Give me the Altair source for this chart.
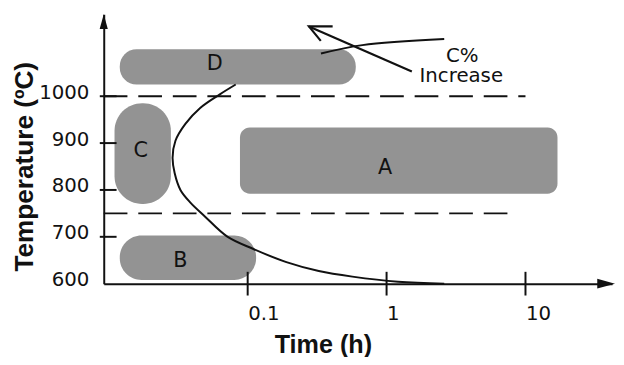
import altair as alt
import pandas as pd

FONT = "DejaVu Sans, Liberation Sans, Arial, sans-serif"
TFONT = "Liberation Sans, Arial, Helvetica, sans-serif"

# ---- axes -------------------------------------------------------------
X_MIN, X_MAX = 0.0092, 42
Y_MIN, Y_MAX = 600, 1175
x_ticks = [0.1, 1, 10]
y_ticks = [600, 700, 800, 900, 1000]
y_inner_ticks = [700, 800, 900, 1000]

# ---- hatched regions (time span in h, temperature span in degC) -------
region_names = ["A", "B", "C", "D"]
region_t0 = [0.088, 0.012, 0.011, 0.012]
region_t1 = [17.0, 0.115, 0.028, 0.60]
region_T0 = [792, 608, 770, 1025]
region_T1 = [933, 703, 985, 1100]
label_t = [0.976, 0.0328, 0.017, 0.058]
label_T = [846, 648, 884, 1069]

# ---- C-curve ----------------------------------------------------------
curve_t = [0.082, 0.063, 0.0455, 0.0356, 0.0302, 0.0288, 0.0298, 0.0328,
           0.0387, 0.0494, 0.0709, 0.110, 0.190, 0.325, 0.567, 1.21, 2.6]
curve_T = [1025, 1004, 975, 941, 905, 869, 836, 800,
           773, 743, 701, 674, 646, 627, 615, 604, 600]

# ---- shifted curve (higher C%) ---------------------------------------
shift_t = [0.337, 0.67, 2.6]
shift_T = [1091, 1109, 1122]

# ---- arrow -----------------------------------------------------------
arrow_shaft_t = [1.52, 0.276]
arrow_shaft_T = [1053, 1149]
arrow_head_t = [0.409, 0.276, 0.336]
arrow_head_T = [1149, 1149, 1118]

# ---- dashed temperature limits --------------------------------------
dash_T = [1000, 750]
dash_t_end = [10, 8.4]

# ---- annotation text --------------------------------------------------
note_text = ["C%", "Increase"]
note_t = [3.5, 3.45]
note_T = [1086, 1042]

xs = alt.Scale(type="log", domain=[X_MIN, X_MAX], nice=False)
ys = alt.Scale(domain=[Y_MIN, Y_MAX], nice=False, zero=False)

x_axis = alt.Axis(values=x_ticks, format="~g", title="Time (h)", grid=False,
                  domain=True, domainColor="#111", domainWidth=2,
                  ticks=False, tickSize=0, labelPadding=20, labelAlign="left",
                  labelFontSize=20, labelFont=FONT, labelColor="#111",
                  titleFont=TFONT, titleFontSize=25.5, titleFontWeight="bold",
                  titleColor="#111", titleX=222, titleY=70, titleBaseline="alphabetic")
y_axis = alt.Axis(values=y_ticks, format="d", title="Temperature (ºC)", grid=False,
                  domain=True, domainColor="#111", domainWidth=2,
                  ticks=False, tickSize=0, labelPadding=15, labelOffset=-4,
                  labelFontSize=20, labelFont=FONT, labelColor="#111",
                  titleFont=TFONT, titleFontSize=26.5, titleFontWeight="bold",
                  titleColor="#111", titleX=-72, titleY=154, titleBaseline="alphabetic")


def X(f):
    return alt.X(f, type="quantitative", scale=xs, axis=x_axis)


def Y(f):
    return alt.Y(f, type="quantitative", scale=ys, axis=y_axis)


regions = pd.DataFrame({"name": region_names, "t0": region_t0, "t1": region_t1,
                        "T0": region_T0, "T1": region_T1,
                        "lt": label_t, "lT": label_T})

radii = {"A": 10, "B": 22, "C": 28, "D": 17}

layers = []
for n in region_names:
    layers.append(
        alt.Chart(regions).transform_filter(alt.datum.name == n)
        .mark_rect(color="#939393", cornerRadius=radii[n])
        .encode(x=X("t0"), x2="t1:Q", y=Y("T0"), y2="T1:Q")
    )

labels = alt.Chart(regions).mark_text(fontSize=21, font=FONT, color="#111").encode(
    x=X("lt"), y=Y("lT"), text="name:N")

dashes = alt.Chart(pd.DataFrame({"T": dash_T, "t0": [X_MIN] * len(dash_T), "t1": dash_t_end})).mark_rule(
    color="#111", strokeWidth=2, strokeDash=[24, 11]).encode(
    x=X("t0"), x2="t1:Q", y=Y("T"))

curve = alt.Chart(pd.DataFrame({"t": curve_t, "T": curve_T, "i": range(len(curve_t))})).mark_line(
    color="#111", strokeWidth=2, interpolate="catmull-rom").encode(
    x=X("t"), y=Y("T"), order="i:Q")

shift = alt.Chart(pd.DataFrame({"t": shift_t, "T": shift_T, "i": range(len(shift_t))})).mark_line(
    color="#111", strokeWidth=2, interpolate="catmull-rom").encode(
    x=X("t"), y=Y("T"), order="i:Q")

arrow_df = pd.DataFrame({
    "t": arrow_shaft_t + arrow_head_t,
    "T": arrow_shaft_T + arrow_head_T,
    "seg": ["shaft"] * len(arrow_shaft_t) + ["head"] * len(arrow_head_t),
    "i": list(range(len(arrow_shaft_t))) + list(range(len(arrow_head_t))),
})
arrow = alt.Chart(arrow_df).mark_line(color="#111", strokeWidth=2.2).encode(
    x=X("t"), y=Y("T"), detail="seg:N", order="i:Q")

notes = alt.Chart(pd.DataFrame({"txt": note_text, "t": note_t, "T": note_T})).mark_text(
    fontSize=20, font=FONT, color="#111").encode(
    x=X("t"), y=Y("T"), text="txt:N")

xtick = alt.Chart(pd.DataFrame({"t": x_ticks})).mark_rule(color="#111", strokeWidth=2).encode(
    x=X("t"), y=alt.value(261), y2=alt.value(285))
ytick = alt.Chart(pd.DataFrame({"T": y_inner_ticks})).mark_rule(color="#111", strokeWidth=2).encode(
    y=Y("T"), x=alt.value(-4), x2=alt.value(13))

xhead = alt.Chart(pd.DataFrame({"t": [X_MAX], "T": [Y_MIN]})).mark_point(
    shape="M -1 -0.55 L 1 0 L -1 0.55 Z", size=324, filled=True, color="#111", opacity=1, xOffset=-6).encode(
    x=X("t"), y=Y("T"))
yhead = alt.Chart(pd.DataFrame({"t": [X_MIN], "T": [Y_MAX]})).mark_point(
    shape="M 0 -1 L 0.55 1 L -0.55 1 Z", size=225, filled=True, color="#111", opacity=1, yOffset=7.5).encode(
    x=X("t"), y=Y("T"))

chart = alt.layer(*layers, labels, dashes, curve, shift, arrow, notes, xtick, ytick, xhead, yhead).properties(
    width=515, height=273,
    autosize=alt.AutoSizeParams(type="none"),
    padding={"left": 97, "top": 4, "right": 4, "bottom": 72},
    background="white",
).configure_view(stroke=None)

chart.save("out.html", embed_options={"renderer": "svg", "actions": False})
